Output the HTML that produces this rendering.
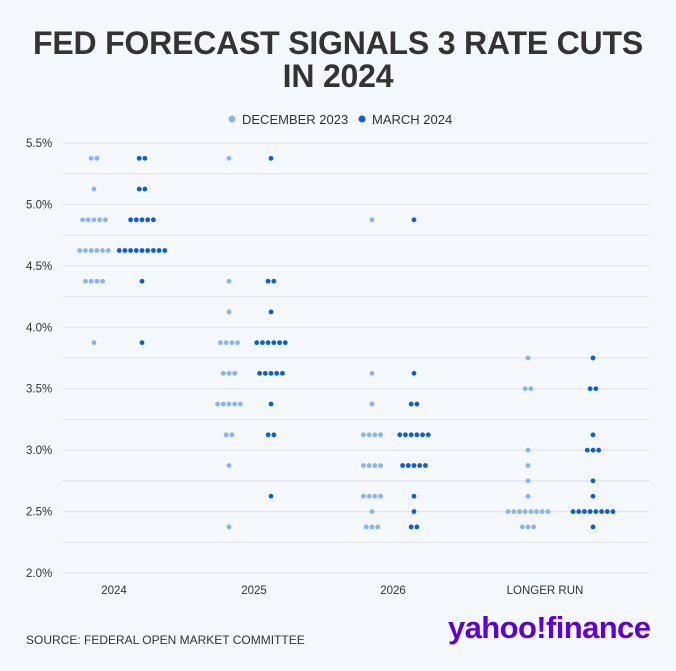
<!DOCTYPE html>
<html><head><meta charset="utf-8"><style>
body{margin:0;background:#f5f8fc;font-family:"Liberation Sans",sans-serif;}
#wrap{position:relative;width:676px;height:671px;overflow:hidden;background:#f5f8fc;}
#title{position:absolute;top:27px;left:0;width:676px;text-align:center;font-weight:bold;font-size:32px;line-height:33px;color:#333;letter-spacing:-0.2px;}
#src{position:absolute;left:26px;top:633px;font-size:12px;color:#333;}
#logo{position:absolute;left:448px;top:610px;font-size:31px;font-weight:bold;color:#6001d2;letter-spacing:-0.6px;}
</style></head><body>
<div id="wrap">
<div id="title">FED FORECAST SIGNALS 3 RATE CUTS<br>IN 2024</div>
<svg id="chart" width="676" height="671" style="position:absolute;left:0;top:0"></svg>
<div id="src">SOURCE: FEDERAL OPEN MARKET COMMITTEE</div>
<div id="logo">yahoo!finance</div>
</div>
<script>
const categories=["2024","2025","2026","LONGER RUN"];
const seriesNames=["DECEMBER 2023","MARCH 2024"];
const yTicks=[2.0,2.5,3.0,3.5,4.0,4.5,5.0,5.5];
const yTickLabels=["2.0%","2.5%","3.0%","3.5%","4.0%","4.5%","5.0%","5.5%"];
const dec2023=[
 [[5.375,2],[5.125,1],[4.875,5],[4.625,6],[4.375,4],[3.875,1]],
 [[5.375,1],[4.375,1],[4.125,1],[3.875,4],[3.625,3],[3.375,5],[3.125,2],[2.875,1],[2.375,1]],
 [[4.875,1],[3.625,1],[3.375,1],[3.125,4],[2.875,4],[2.625,4],[2.5,1],[2.375,3]],
 [[3.75,1],[3.5,2],[3.0,1],[2.875,1],[2.75,1],[2.625,1],[2.5,8],[2.375,3]]
];
const mar2024=[
 [[5.375,2],[5.125,2],[4.875,5],[4.625,9],[4.375,1],[3.875,1]],
 [[5.375,1],[4.375,2],[4.125,1],[3.875,6],[3.625,5],[3.375,1],[3.125,2],[2.625,1]],
 [[4.875,1],[3.625,1],[3.375,2],[3.125,6],[2.875,5],[2.625,1],[2.5,1],[2.375,2]],
 [[3.75,1],[3.5,2],[3.125,1],[3.0,3],[2.75,1],[2.625,1],[2.5,8],[2.375,1]]
];
const NS="http://www.w3.org/2000/svg";
const svg=document.getElementById('chart');
const catLabelX=[114,254,393,545];
const catDotX=[[94,142],[229,271],[372,414],[528,593]];
const colors=["#86b6f2","#0b5fd6"];
function y(v){return 143+(5.5-v)*122.86;}
function mk(t,a){const e=document.createElementNS(NS,t);for(const k in a)e.setAttribute(k,a[k]);svg.appendChild(e);return e;}
for(let v=2.0;v<=5.5001;v+=0.25){
 const l=mk('line',{x1:62,x2:650,y1:y(v),y2:y(v),stroke:'#e2e5ea','stroke-width':1.2});
 
 
}
yTicks.forEach((t,i)=>{
 const e=mk('text',{x:26,y:y(t)+4,'font-size':11.5,fill:'#333'});
 e.textContent=yTickLabels[i];
 
 
});
categories.forEach((c,i)=>{
 const e=mk('text',{x:catLabelX[i],y:594,'font-size':11.5,fill:'#333','text-anchor':'middle'});
 e.textContent=c;
 
 
});
[dec2023,mar2024].forEach((ser,s)=>{
 ser.forEach((groups,ci)=>{
  groups.forEach(([v,n])=>{
   for(let k=0;k<n;k++){
    const cx=catDotX[ci][s]+(k-(n-1)/2)*5.7;
    const d=mk('circle',{cx:cx,cy:y(v),r:2.4,fill:colors[s]});
    
    
   }
  });
 });
});
const legX=[[232,242],[362,372]];
seriesNames.forEach((n,i)=>{
 const c=mk('circle',{cx:legX[i][0],cy:119,r:3.5,fill:colors[i]});
 
 
 const t=mk('text',{x:legX[i][1],y:124,'font-size':13,fill:'#333'});
 t.textContent=n;
 
 
});
</script>
</body></html>
